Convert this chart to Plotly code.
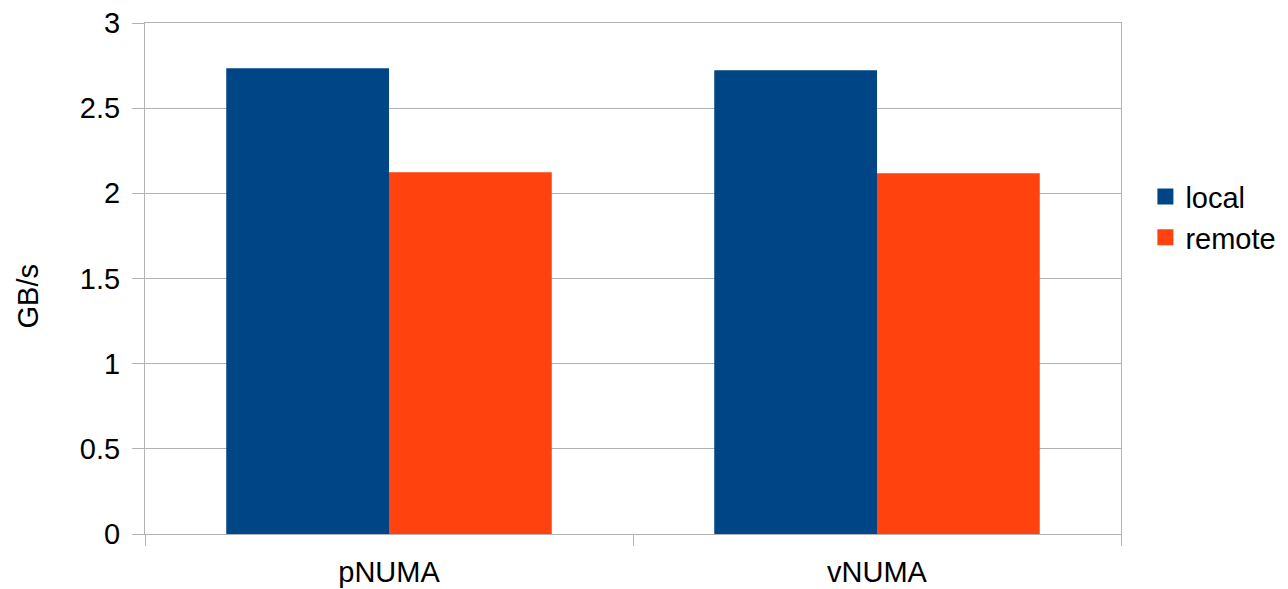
import plotly.graph_objects as go

categories = ["pNUMA", "vNUMA"]
local_vals = [2.734, 2.723]
remote_vals = [2.124, 2.118]
series_names = ["local", "remote"]
series_colors = ["#004586", "#ff420e"]
y_ticks = [0, 0.5, 1, 1.5, 2, 2.5, 3]
y_tick_labels = ["0", "0.5", "1", "1.5", "2", "2.5", "3"]

FONT = "Liberation Sans, Arial, sans-serif"
GRID = "#b3b3b3"
FS = 29

fig = go.Figure()
for name, vals, color in zip(series_names, [local_vals, remote_vals], series_colors):
    fig.add_trace(go.Bar(name=name, x=categories, y=vals, legendgroup=name,
                         showlegend=False,
                         marker=dict(color=color, line=dict(width=0))))
# legend keys drawn as larger square swatches
for name, color in zip(series_names, series_colors):
    fig.add_trace(go.Scatter(name=name, x=[None], y=[None], mode="markers",
                             legendgroup=name, showlegend=True,
                             marker=dict(symbol="square", size=19, color=color)))

fig.update_layout(
    width=1288, height=589,
    margin=dict(l=145, r=167, t=23, b=55, pad=0, autoexpand=False),
    paper_bgcolor="white", plot_bgcolor="white",
    font=dict(family=FONT, size=FS, color="black"),
    barmode="group", bargap=0.333, bargroupgap=0,
    showlegend=True,
    legend=dict(x=1.025, y=0.62, xanchor="left", yanchor="middle",
                font=dict(size=FS), itemwidth=30, itemsizing="trace",
                tracegroupgap=0, bgcolor="rgba(0,0,0,0)"),
    xaxis=dict(showgrid=False, showline=True, linecolor=GRID, linewidth=1,
               mirror=True, ticks="outside", ticklen=11, tickcolor=GRID,
               tickson="boundaries", tickfont=dict(size=FS),
               ticklabelstandoff=12, automargin=False),
    yaxis=dict(range=[0, 3], tickvals=y_ticks, ticktext=y_tick_labels,
               showgrid=True, gridcolor=GRID, gridwidth=1,
               showline=True, linecolor=GRID, linewidth=1, mirror=True,
               ticks="outside", ticklen=12, tickcolor=GRID,
               zeroline=False, tickfont=dict(size=FS),
               ticklabelstandoff=6, automargin=False),
    annotations=[dict(text="GB/s", textangle=-90, xref="paper", yref="paper",
                      x=(27.5 - 145) / 976, y=(534 - 297) / 511,
                      xanchor="center", yanchor="middle",
                      showarrow=False, font=dict(size=FS))],
)

fig.write_html("out.html")
